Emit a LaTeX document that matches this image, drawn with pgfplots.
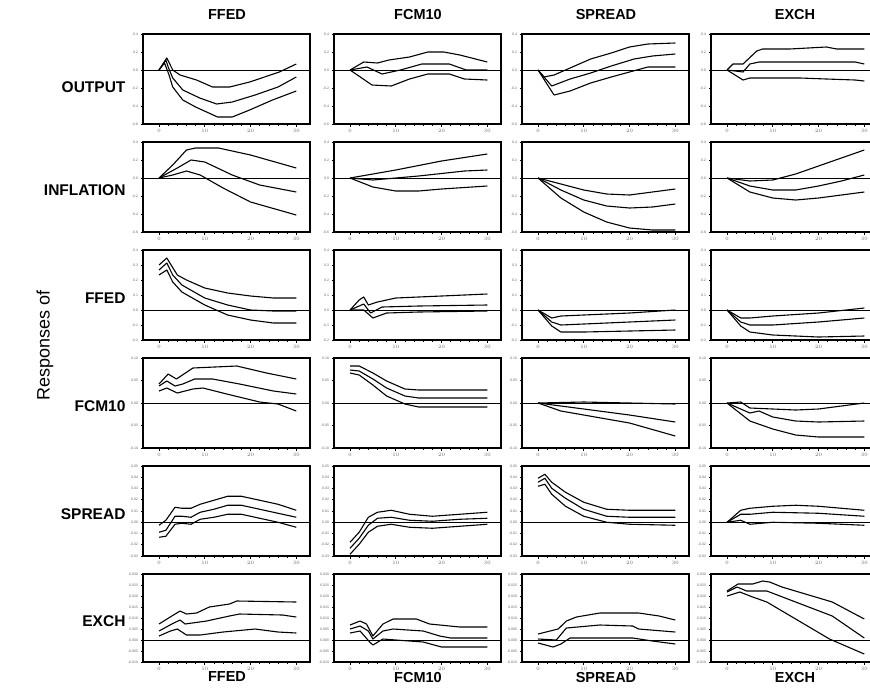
\documentclass[border=0pt]{standalone}
\usepackage{pgfplots}
\pgfplotsset{compat=1.18}
\usepackage{fontspec}
\setmainfont{Liberation Sans}
\pgfplotsset{
  irf/.style={scale only axis, width=167pt, height=90pt, anchor=north west,
    xmin=-3.5, xmax=33, xtick={0,10,20,30}, minor x tick num=4,
    tick align=outside, xtick pos=left, ytick pos=left,
    axis line style={line width=1.1pt},
    major tick style={line width=0.6pt, black}, minor tick style={line width=0.5pt, black},
    major tick length=2.5pt, minor tick length=1.5pt,
    tick label style={font=\fontsize{3.5}{4}\selectfont, text=black!60},
    xticklabel style={yshift=1pt}, yticklabel style={xshift=1pt},
    clip=true},
  curve/.style={black, solid, mark=none, line width=1.1pt, line join=round},
  zero/.style={black, solid, mark=none, line width=0.9pt},
  rA/.style={ymin=-54, ymax=36, ytick={-54,-36,-18,0,18,36}, yticklabels={-0.6,-0.4,-0.2,0.0,0.2,0.4}},
  rC/.style={ymin=-30, ymax=60, ytick={-30,-15,0,15,30,45,60}, yticklabels={-0.2,-0.1,0.0,0.1,0.2,0.3,0.4}},
  rD/.style={ymin=-45, ymax=45, ytick={-45,-22.5,0,22.5,45}, yticklabels={-0.10,-0.05,0.00,0.05,0.10}},
  rE/.style={ymin=-33.75, ymax=56.25, ytick={-33.75,-22.5,-11.25,0,11.25,22.5,33.75,45,56.25}, yticklabels={-0.03,-0.02,-0.01,0.00,0.01,0.02,0.03,0.04,0.05}},
  rF/.style={height=88pt, ymin=-22, ymax=66, ytick={-22,-11,0,11,22,33,44,55,66}, yticklabels={-0.010,-0.005,0.000,0.005,0.010,0.015,0.020,0.025,0.030}},
}
\newcommand\irfpanel[6]{%
\begin{axis}[irf,#3,at={(#1pt,-#2pt)}]
\addplot[zero] coordinates {(-3.5,0)(33,0)};
\addplot[curve] coordinates {#4};
\addplot[curve] coordinates {#5};
\addplot[curve] coordinates {#6};
\end{axis}}
\begin{document}
\begin{tikzpicture}
\path[use as bounding box] (0,0) rectangle (870pt,-691pt);
% column titles
\foreach \cx/\nm in {227/FFED,418/FCM10,606/SPREAD,795/EXCH}{
  \node[font=\bfseries\fontsize{14.5}{15}\selectfont] at (\cx pt,-15pt) {\nm};
  \node[font=\bfseries\fontsize{14.5}{15}\selectfont] at (\cx pt,-677pt) {\nm};
}
% row labels
\foreach \cy/\nm in {87/OUTPUT,190/INFLATION,298/FFED,406/FCM10,514/SPREAD,621/EXCH}{
  \node[anchor=east, font=\bfseries\fontsize{15.5}{16}\selectfont] at (129pt,-\cy pt) {\nm};
}
\node[rotate=90, font=\fontsize{18}{18}\selectfont] at (45pt,-345pt) {Responses of};

% ---------------- Row 1: OUTPUT ----------------
\irfpanel{143}{34}{rA}
{(0,0)(1.7,12)(3,0)(4.6,-5)(8.2,-10)(11.7,-17)(15.4,-17)(19.8,-12)(26.3,-2)(30,6)}
{(0,0)(1.5,10)(2,3)(3,-8)(5.2,-20)(8.9,-28)(12.6,-34)(16,-32)(21,-25)(26,-17)(30,-7)}
{(0,0)(1.2,7)(2.2,-5)(3,-17)(5.2,-30)(8,-37)(12.8,-47)(16,-47)(19.8,-40)(24.8,-30)(30,-21)}
\irfpanel{334}{34}{rA}
{(0,0)(3,8)(6,7)(8.5,10)(13,13)(17,18)(20.5,18)(24,15)(30,8)}
{(0,0)(3.7,3)(7,-4)(11,0)(15.7,6)(21.7,6)(25.4,0)(30,0)}
{(0,0)(4.8,-15)(9,-16)(13,-9)(17,-4)(21.7,-4)(25,-9)(30,-10)}
\irfpanel{522}{34}{rA}
{(0,0)(1.3,-7)(3.5,-5)(6.5,1)(11.5,11)(16,17)(20,23)(24,26)(30,27)}
{(0,0)(3,-16)(7,-9)(11.5,-3)(16,4)(21,11)(25,14)(30,16)}
{(0,0)(3.5,-25)(7,-21)(11.5,-13)(16,-7)(20,-2)(24,3)(30,3)}
\irfpanel{711}{34}{rA}
{(0,0)(1.3,6)(3.5,6)(6.5,19)(7.8,21)(13.7,21)(21.7,23)(24,21)(30,21)}
{(0,0)(3.5,-2)(5,6)(7,8)(28,8)(30,6)}
{(0,0)(3.5,-10)(5,-8)(16,-8)(21.7,-9)(28,-10)(30,-11)}

% ---------------- Row 2: INFLATION ----------------
\irfpanel{143}{142}{rA}
{(0,0)(3,13)(6,28)(8,30)(13,30)(20,23)(30,10)}
{(0,0)(4,10)(7,18)(10,16)(16,3)(22,-7)(30,-14)}
{(0,0)(3,3)(6,7)(9,3)(14,-10)(20,-24)(30,-37)}
\irfpanel{334}{142}{rA}
{(0,0)(10,8)(20,17)(30,24)}
{(0,0)(5,-2)(15,2)(25,7)(30,8)}
{(0,0)(5,-9)(10,-13)(15,-13)(20,-11)(30,-8)}
\irfpanel{522}{142}{rA}
{(0,0)(5,-6)(10,-12)(15,-16)(20,-17)(25,-14)(30,-11)}
{(0,0)(5,-12)(10,-22)(15,-28)(20,-30)(25,-29)(30,-26)}
{(0,0)(5,-20)(10,-34)(15,-44)(20,-50)(25,-52)(30,-52)}
\irfpanel{711}{142}{rA}
{(0,0)(5,-3)(10,-2)(15,4)(20,12)(25,20)(30,28)}
{(0,0)(5,-8)(10,-12)(15,-12)(20,-8)(25,-3)(30,3)}
{(0,0)(5,-14)(10,-20)(15,-22)(20,-20)(25,-17)(30,-14)}

% ---------------- Row 3: FFED ----------------
\irfpanel{143}{250}{rC}
{(0,45)(1.7,52)(4,35)(6,30)(10,22)(15,17)(20,14)(25,12)(30,12)}
{(0,40)(1.7,47)(3,35)(5,25)(10,12)(15,5)(20,0)(25,-1)(30,-1)}
{(0,35)(1.7,40)(3,28)(5,18)(10,5)(15,-5)(20,-10)(25,-13)(30,-13)}
\irfpanel{334}{250}{rC}
{(0,0)(2,10)(3,13)(4,5)(6,8)(10,12)(20,14)(30,16)}
{(0,0)(3,6)(4.5,-3)(7,3)(15,4)(30,5)}
{(0,0)(3,0)(5,-8)(8,-3)(15,-2)(30,-1)}
\irfpanel{522}{250}{rC}
{(0,0)(3,-8)(5,-6)(10,-5)(20,-3)(30,0)}
{(0,0)(3,-12)(5,-15)(10,-14)(20,-12)(30,-10)}
{(0,0)(3,-16)(5,-22)(10,-22)(20,-21)(30,-20)}
\irfpanel{711}{250}{rC}
{(0,0)(3,-8)(5,-8)(10,-6)(20,-3)(30,2)}
{(0,0)(3,-12)(5,-15)(10,-15)(20,-12)(30,-8)}
{(0,0)(3,-16)(5,-22)(10,-25)(20,-27)(30,-26)}

% ---------------- Row 4: FCM10 ----------------
\irfpanel{143}{358}{rD}
{(0,19)(2,29)(3.8,24)(7.4,35)(17,37)(23.5,30)(30,24)}
{(0,17)(1.7,22)(3.5,17)(5.2,19)(7.8,24)(11.7,24)(17.6,19)(25,12)(30,9)}
{(0,12)(1.7,15)(4,10)(7.4,14)(9.6,15)(14.8,9)(22,1)(26,-1)(30,-8)}
\irfpanel{334}{358}{rD}
{(0,37)(2,37)(5,30)(8,22)(12,14)(15,13)(30,13)}
{(0,33)(2,32)(5,24)(8,15)(12,7)(15,5)(30,5)}
{(0,30)(2,28)(5,18)(8,7)(12,-1)(15,-4)(30,-4)}
\irfpanel{522}{358}{rD}
{(0,0)(10,1)(20,0)(30,-1)}
{(0,0)(5,-3)(10,-6)(20,-12)(30,-19)}
{(0,0)(5,-8)(10,-12)(20,-20)(30,-33)}
\irfpanel{711}{358}{rD}
{(0,0)(3,1)(5,-5)(10,-6)(15,-7)(20,-6)(25,-3)(30,0)}
{(0,0)(3,-6)(5,-10)(7,-8)(10,-14)(15,-18)(20,-19)(30,-18)}
{(0,0)(5,-18)(10,-26)(15,-32)(20,-34)(30,-34)}

% ---------------- Row 5: SPREAD ----------------
\irfpanel{143}{466}{rE}
{(0,-3)(1.5,2)(3.5,15)(5,14)(7,14)(9,18)(12,22)(15,26)(18,26)(22,22)(26,18)(30,12)}
{(0,-10)(1.5,-8)(3.5,6)(5,6)(7,5)(9,10)(12,13)(15,17)(18,17)(22,13)(26,9)(30,5)}
{(0,-15)(1.5,-14)(3.5,-2)(5,-1)(7,-2)(9,3)(12,5)(15,8)(18,8)(22,4)(26,0)(30,-5)}
\irfpanel{334}{466}{rE}
{(0,-20)(2,-10)(4,5)(6,10)(9,12)(13,8)(18,6)(24,8)(30,10)}
{(0,-26)(2,-16)(4,-3)(6,4)(9,5)(13,2)(18,1)(24,3)(30,4)}
{(0,-32)(2,-22)(4,-10)(6,-4)(9,-2)(13,-5)(18,-6)(24,-4)(30,-2)}
\irfpanel{522}{466}{rE}
{(0,44)(1.5,48)(3,40)(6,30)(10,20)(15,13)(20,12)(30,12)}
{(0,40)(1.5,44)(3,34)(6,24)(10,13)(15,6)(20,5)(30,5)}
{(0,36)(1.5,38)(3,28)(6,16)(10,6)(15,0)(20,-2)(30,-3)}
\irfpanel{711}{466}{rE}
{(0,0)(3,12)(5,14)(10,16)(15,17)(20,16)(25,14)(30,12)}
{(0,0)(3,8)(5,8)(10,10)(20,9)(30,6)}
{(0,0)(3,2)(5,-2)(10,0)(20,-1)(30,-3)}

% ---------------- Row 6: EXCH ----------------
\irfpanel{143}{574}{rF}
{(0,16)(2.8,24)(4.6,29)(6,26)(8.2,27)(11,33)(15.4,36)(17,39)(30,38)}
{(0,9)(2.8,16)(4.6,20)(5.7,16)(10.4,19)(15.4,24)(17.6,26)(27,25)(30,23)}
{(0,4)(2.5,9)(4,11)(6,5)(9,5)(14,8)(21,11)(26,8)(30,7)}
\irfpanel{334}{574}{rF}
{(0,15)(2.2,19)(3.6,16)(5,4)(7.2,16)(9.4,21)(14.5,21)(17.4,16)(24,13)(30,13)}
{(0,11)(2.2,14)(4,9)(5,1)(7.2,9)(9.4,11)(16,9)(19.6,4)(22,2)(30,2)}
{(0,7)(2.2,9)(4.3,-2)(5,-5)(7.2,1)(10,0)(16,-2)(20,-7)(30,-7)}
\irfpanel{522}{574}{rF}
{(0,6)(4.4,11)(6.2,19)(8.4,23)(13.5,27)(22,27)(26.5,24)(30,20)}
{(0,1)(4,0)(6.2,12)(13.5,15)(20.7,14)(22,11)(30,8)}
{(0,-3)(3.3,-7)(5,-4)(7,2)(20.7,2)(25,-1)(30,-4)}
\irfpanel{711}{574}{rF}
{(0,49)(2.4,56)(5.6,56)(7.8,59)(9.3,58)(12,53)(23,38)(30,21)}
{(0,48)(2.2,53)(4.3,49)(8.7,49)(23,24)(30,2)}
{(0,44)(2.8,48)(5.6,43)(8.7,38)(22.4,1)(30,-14)}
\end{tikzpicture}
\end{document}
